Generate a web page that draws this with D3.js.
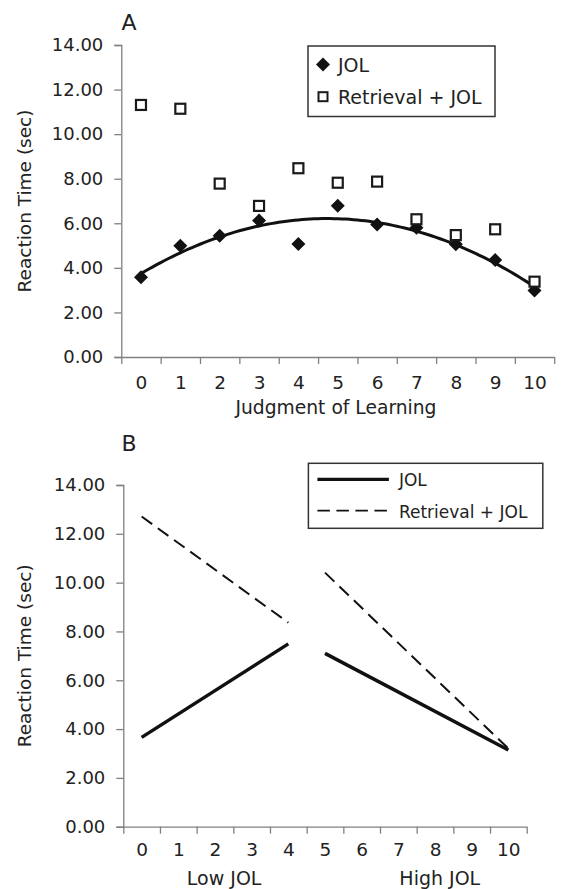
<!DOCTYPE html>
<html>
<head>
<meta charset="utf-8">
<script src="https://cdn.jsdelivr.net/npm/d3@7"></script>
<style>
  html, body { margin: 0; padding: 0; background: #fff; }
  svg { display: block; font-family: "DejaVu Sans", sans-serif; }
</style>
</head>
<body>
<svg id="chart" width="561" height="889"></svg>
<script>
// ---------- data ----------
const categories = [0, 1, 2, 3, 4, 5, 6, 7, 8, 9, 10];
const jolA = [3.58, 4.99, 5.44, 6.12, 5.07, 6.79, 5.94, 5.80, 5.06, 4.35, 2.98];
const retrievalA = [11.31, 11.14, 7.78, 6.78, 8.47, 7.82, 7.87, 6.18, 5.47, 5.73, 3.38];
const yTicks = [0, 2, 4, 6, 8, 10, 12, 14];
// Panel B: two segments per series (low JOL 0-4, high JOL 5-10)
const jolBLow = [{x: 0, y: 3.66}, {x: 4, y: 7.49}];
const jolBHigh = [{x: 5, y: 7.10}, {x: 10, y: 3.14}];
const retBLow = [{x: 0, y: 12.71}, {x: 4, y: 8.36}];
const retBHigh = [{x: 5, y: 10.41}, {x: 10, y: 3.20}];
const groupLabels = [{x: 2.25, text: "Low JOL"}, {x: 8.13, text: "High JOL"}];
const legendNames = ["JOL", "Retrieval + JOL"];

const TEXT = "#222";
const AXIS = "#808080";
const svg = d3.select("#chart");

// quadratic least squares fit (polynomial trendline of JOL)
function quadFit(xs, ys) {
  const n = xs.length;
  let S = [0,0,0,0,0], T = [0,0,0];
  for (let i = 0; i < n; i++) {
    const x = xs[i], y = ys[i];
    for (let k = 0; k < 5; k++) S[k] += Math.pow(x, k);
    for (let k = 0; k < 3; k++) T[k] += y * Math.pow(x, k);
  }
  const M = [[S[0],S[1],S[2],T[0]],[S[1],S[2],S[3],T[1]],[S[2],S[3],S[4],T[2]]];
  for (let i = 0; i < 3; i++) {
    for (let j = i + 1; j < 3; j++) {
      const f = M[j][i] / M[i][i];
      for (let k = i; k < 4; k++) M[j][k] -= f * M[i][k];
    }
  }
  const c = [0,0,0];
  for (let i = 2; i >= 0; i--) {
    let s = M[i][3];
    for (let k = i + 1; k < 3; k++) s -= M[i][k] * c[k];
    c[i] = s / M[i][i];
  }
  return x => c[0] + c[1] * x + c[2] * x * x;
}

function drawAxes(g, x, y, opt) {
  const ya = g.append("g").attr("transform", `translate(${opt.left},0)`)
    .call(d3.axisLeft(y).tickValues(yTicks).tickFormat(d3.format(".2f"))
      .tickSize(7).tickPadding(11));
  ya.select(".domain").attr("stroke", AXIS).attr("stroke-width", 1.3);
  ya.selectAll(".tick line").attr("stroke", AXIS).attr("stroke-width", 1.3);
  ya.selectAll("text").attr("fill", TEXT).style("font-size", "18px")
    .style("font-family", "DejaVu Sans");
  const bounds = d3.range(-0.5, 10.6, 1);
  const xa = g.append("g").attr("transform", `translate(0,${opt.bottom})`)
    .call(d3.axisBottom(x).tickValues(bounds).tickFormat("").tickSize(7).tickSizeOuter(0));
  xa.select(".domain").attr("stroke", AXIS).attr("stroke-width", 1.3);
  xa.selectAll(".tick line").attr("stroke", AXIS).attr("stroke-width", 1.3);
  const xl = g.append("g").attr("transform", `translate(0,${opt.bottom})`)
    .call(d3.axisBottom(x).tickValues(categories).tickFormat(d3.format("d"))
      .tickSize(0).tickPadding(opt.xPad));
  xl.select(".domain").remove();
  xl.selectAll("text").attr("fill", TEXT).style("font-size", "18.5px")
    .style("font-family", "DejaVu Sans");
  g.append("text")
    .attr("transform", `translate(${opt.yTitleX},${(y(0) + y(14)) / 2}) rotate(-90)`)
    .attr("text-anchor", "middle").attr("fill", TEXT)
    .style("font-size", "18.5px").text("Reaction Time (sec)");
}

// ---------------- Panel A ----------------
{
  const g = svg.append("g");
  const x = d3.scaleLinear().domain([-0.5, 10.5]).range([121.3, 554.2]);
  const y = d3.scaleLinear().domain([0, 14]).range([357, 45]);
  drawAxes(g, x, y, {left: 121.3, bottom: 357, xPad: 19, yTitleX: 31});

  g.append("text").attr("x", 336).attr("y", 414).attr("text-anchor", "middle")
    .attr("fill", TEXT).style("font-size", "18.7px").text("Judgment of Learning");
  g.append("text").attr("x", 121.5).attr("y", 30).attr("fill", TEXT)
    .style("font-size", "22px").text("A");

  const f = quadFit(categories, jolA);
  const curve = d3.range(0, 10.001, 0.1).map(v => [v, f(v)]);
  g.append("path").datum(curve)
    .attr("d", d3.line().x(d => x(d[0])).y(d => y(d[1])))
    .attr("fill", "none").attr("stroke", "#111").attr("stroke-width", 3);

  const diamond = d3.symbol().type(d3.symbolSquare).size(98);
  g.selectAll(".jol").data(jolA).enter().append("path")
    .attr("d", diamond)
    .attr("transform", (d, i) => `translate(${x(categories[i])},${y(d)}) rotate(45)`)
    .attr("fill", "#111");
  g.selectAll(".ret").data(retrievalA).enter().append("rect")
    .attr("x", (d, i) => x(categories[i]) - 5).attr("y", d => y(d) - 5)
    .attr("width", 10).attr("height", 10)
    .attr("fill", "#fff").attr("stroke", "#1a1a1a").attr("stroke-width", 2.2);

  const lg = g.append("g");
  lg.append("rect").attr("x", 308).attr("y", 46).attr("width", 187).attr("height", 70.5)
    .attr("fill", "#fff").attr("stroke", "#333").attr("stroke-width", 1.5);
  lg.append("path").attr("d", diamond).attr("transform", "translate(323,64.5) rotate(45)")
    .attr("fill", "#111");
  lg.append("rect").attr("x", 318.5).attr("y", 92.2).attr("width", 9).attr("height", 9)
    .attr("fill", "#fff").attr("stroke", "#1a1a1a").attr("stroke-width", 2);
  lg.selectAll(".lt").data(legendNames).enter().append("text")
    .attr("x", 338).attr("y", (d, i) => 71.7 + i * 32.3)
    .attr("fill", TEXT).style("font-size", "19px").text(d => d);
}

// ---------------- Panel B ----------------
{
  const g = svg.append("g");
  const x = d3.scaleLinear().domain([-0.5, 10.5]).range([123.3, 526.7]);
  const y = d3.scaleLinear().domain([0, 14]).range([826.7, 485]);
  drawAxes(g, x, y, {left: 123.3, bottom: 826.7, xPad: 16, yTitleX: 31});

  g.append("text").attr("x", 121.5).attr("y", 451).attr("fill", TEXT)
    .style("font-size", "22px").text("B");

  const line = d3.line().x(d => x(d.x)).y(d => y(d.y));
  [jolBLow, jolBHigh].forEach(seg => {
    g.append("path").datum(seg).attr("d", line).attr("fill", "none")
      .attr("stroke", "#111").attr("stroke-width", 3.5);
  });
  [retBLow, retBHigh].forEach(seg => {
    g.append("path").datum(seg).attr("d", line).attr("fill", "none")
      .attr("stroke", "#111").attr("stroke-width", 2).attr("stroke-dasharray", "13,7");
  });

  g.selectAll(".grp").data(groupLabels).enter().append("text")
    .attr("x", d => x(d.x)).attr("y", 885).attr("text-anchor", "middle")
    .attr("fill", TEXT).style("font-size", "19px").text(d => d.text);

  const lg = g.append("g");
  lg.append("rect").attr("x", 308.4).attr("y", 463.3).attr("width", 234.4).attr("height", 65)
    .attr("fill", "#fff").attr("stroke", "#333").attr("stroke-width", 1.5);
  lg.append("line").attr("x1", 317.4).attr("x2", 388.9).attr("y1", 479.3).attr("y2", 479.3)
    .attr("stroke", "#111").attr("stroke-width", 3.2);
  lg.append("line").attr("x1", 317.4).attr("x2", 388.9).attr("y1", 510.7).attr("y2", 510.7)
    .attr("stroke", "#111").attr("stroke-width", 1.8).attr("stroke-dasharray", "12.5,6.5");
  lg.selectAll(".lt").data(legendNames).enter().append("text")
    .attr("x", 398.9).attr("y", (d, i) => 486 + i * 32)
    .attr("fill", TEXT).style("font-size", "17px").text(d => d);
}
</script>
</body>
</html>
